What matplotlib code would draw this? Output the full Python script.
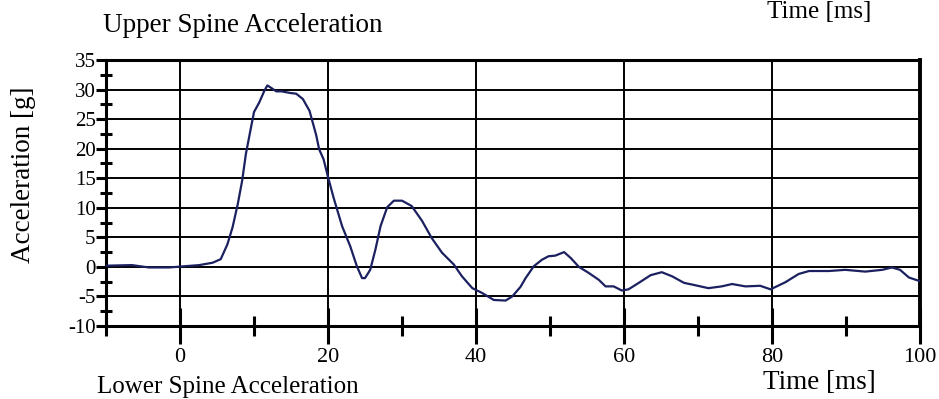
import numpy as np
import matplotlib.pyplot as plt
from matplotlib.ticker import MultipleLocator

plt.rcParams['font.family'] = ['Liberation Serif', 'DejaVu Serif']
plt.rcParams['axes.unicode_minus'] = False

# Upper spine acceleration trace
time_ms = [-10.0, -6.5, -4.2, -1.5, 2.6, 4.4, 5.5, 6.4, 7.1, 7.8, 8.4, 8.9, 9.5, 10.0,
           10.7, 11.4, 11.8, 12.3, 13.0, 13.7, 15.0, 15.7, 16.6, 17.5, 18.4, 18.8, 19.4,
           20.0, 20.8, 21.9, 23.0, 23.9, 24.6, 25.0, 25.7, 26.4, 27.1, 28.0, 28.9, 30.0,
           31.3, 32.7, 34.0, 35.4, 37.0, 38.1, 39.5, 40.8, 42.4, 44.0, 44.9, 46.0, 46.7,
           47.8, 48.9, 49.8, 50.7, 51.9, 52.8, 53.9, 55.2, 56.6, 57.5, 58.6, 59.7, 60.6,
           62.0, 63.6, 65.1, 66.5, 68.1, 69.6, 71.4, 73.2, 74.6, 76.4, 78.4, 79.8, 81.8,
           83.6, 85.0, 87.7, 89.9, 92.6, 94.9, 96.2, 97.3, 98.5, 99.7, 100.0]
accel_g = [0.2, 0.3, -0.1, -0.1, 0.3, 0.7, 1.3, 3.8, 6.7, 10.6, 14.6, 19.1, 23.0, 26.2,
           27.8, 29.8, 30.7, 30.3, 29.7, 29.7, 29.4, 29.3, 28.4, 26.4, 22.3, 19.9, 18.2,
           15.2, 11.5, 6.9, 3.5, 0.1, -1.9, -1.9, -0.5, 2.9, 6.9, 10.1, 11.2, 11.2,
           10.3, 7.8, 4.9, 2.4, 0.4, -1.6, -3.6, -4.4, -5.6, -5.7, -5.0, -3.4, -1.9,
           0.1, 1.2, 1.8, 1.9, 2.5, 1.5, 0.0, -1.0, -2.2, -3.3, -3.3, -4.0, -3.8,
           -2.7, -1.4, -0.9, -1.6, -2.7, -3.1, -3.6, -3.3, -2.9, -3.3, -3.2, -3.8, -2.6,
           -1.2, -0.7, -0.7, -0.5, -0.8, -0.5, -0.1, -0.5, -1.8, -2.3, -2.4]

x_ticks = [0, 20, 40, 60, 80, 100]
y_ticks = [-10, -5, 0, 5, 10, 15, 20, 25, 30, 35]

fig = plt.figure(figsize=(9.39, 3.99), dpi=100)
ax = fig.add_axes([0.1129, 0.1830, 0.8669, 0.6666])

ax.plot(time_ms, accel_g, color='#1b2160', lw=1.6, zorder=3,
        solid_joinstyle='round', solid_capstyle='round')

ax.set_xlim(-10, 100)
ax.set_ylim(-10, 35)

# grid drawn by hand so that only the inner lines show
for yv in y_ticks[1:-1]:
    ax.axhline(yv, color='black', lw=1.4, zorder=1)
for xv in x_ticks[:-1]:
    ax.axvline(xv, color='black', lw=1.4, zorder=1)

ax.set_xticks(x_ticks)
ax.set_yticks(y_ticks)
ax.xaxis.set_minor_locator(MultipleLocator(10))
ax.yaxis.set_minor_locator(MultipleLocator(2.5))
ax.tick_params(axis='x', which='major', direction='inout', length=26, width=2.2,
               labelsize=16, pad=3)
ax.tick_params(axis='x', which='minor', direction='inout', length=14, width=2.2)
ax.tick_params(axis='y', which='major', direction='out', length=7, width=2.2,
               labelsize=15, pad=0.5)
ax.tick_params(axis='y', which='minor', direction='inout', length=8, width=2.2)

for side, w in [('left', 2.2), ('bottom', 2.2), ('top', 2.2), ('right', 2.8)]:
    ax.spines[side].set_linewidth(w)

fig.text(103 / 939, 1 - 32 / 399, 'Upper Spine Acceleration', fontsize=19.5,
         ha='left', va='baseline')
fig.text(24 / 939, 1 - 175 / 399, 'Acceleration [g]', fontsize=19.5,
         rotation=90, ha='center', va='center')
fig.text(763 / 939, 1 - 389 / 399, 'Time [ms]', fontsize=19.5, ha='left', va='baseline')
# labels of the neighbouring charts on the page, kept inside the frame
fig.text(767 / 939, 1 - 18 / 399, 'Time [ms]', fontsize=18, ha='left', va='baseline')
fig.text(97 / 939, 1 - 393 / 399, 'Lower Spine Acceleration', fontsize=18,
         ha='left', va='baseline')

fig.savefig('out.png', dpi=100)
